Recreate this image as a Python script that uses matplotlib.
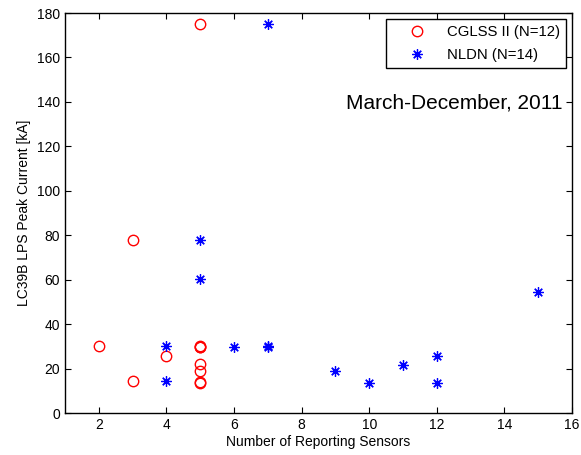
import matplotlib
matplotlib.use("Agg")
import matplotlib.pyplot as plt

plt.rcParams['font.family'] = ['Liberation Sans', 'DejaVu Sans']

cglss_x = [5, 3, 2, 4, 3, 5, 5, 5, 5, 5, 5, 5]
cglss_y = [175, 78, 30, 25.5, 14.6, 30, 29.7, 29.5, 22, 18.7, 13.8, 13.4]

nldn_x = [7, 5, 5, 4, 4, 6, 7, 7, 9, 10, 11, 12, 12, 15]
nldn_y = [175, 78, 60.3, 30, 14.6, 29.5, 30, 29.7, 18.8, 13.4, 21.8, 25.6, 13.4, 54.6]

xticks = [2, 4, 6, 8, 10, 12, 14, 16]
yticks = [0, 20, 40, 60, 80, 100, 120, 140, 160, 180]

fig = plt.figure(figsize=(5.81, 4.55), dpi=100)
ax = fig.add_axes([0.112, 0.0923, 0.8725, 0.8791])

ax.plot(cglss_x, cglss_y, linestyle='none', marker='o', markersize=7.5,
        markerfacecolor='none', markeredgecolor='red', markeredgewidth=1.0,
        label='CGLSS II (N=12)')
ax.plot(nldn_x, nldn_y, linestyle='none', marker=(8, 2, 0), markersize=7.5,
        color='blue', markeredgewidth=0.9, label='NLDN (N=14)')

ax.set_xlim(1, 16)
ax.set_ylim(0, 180)
ax.set_xticks(xticks)
ax.set_yticks(yticks)
ax.tick_params(direction='in', top=True, right=True, labelsize=10, length=4)
for s in ax.spines.values():
    s.set_linewidth(1.0)

ax.set_xlabel('Number of Reporting Sensors', fontsize=10, labelpad=2)
ax.set_ylabel('LC39B LPS Peak Current [kA]', fontsize=10, labelpad=4)

ax.text(0.982, 0.775, 'March-December, 2011', transform=ax.transAxes,
        ha='right', va='center', fontsize=15)

leg = ax.legend(loc='upper right', fontsize=10.7, fancybox=False, framealpha=1,
                edgecolor='black', borderaxespad=0.4, handlelength=3.4,
                handletextpad=0.3, borderpad=0.4, labelspacing=0.6)
leg.get_frame().set_linewidth(1.0)

fig.savefig('out.png', dpi=100)
